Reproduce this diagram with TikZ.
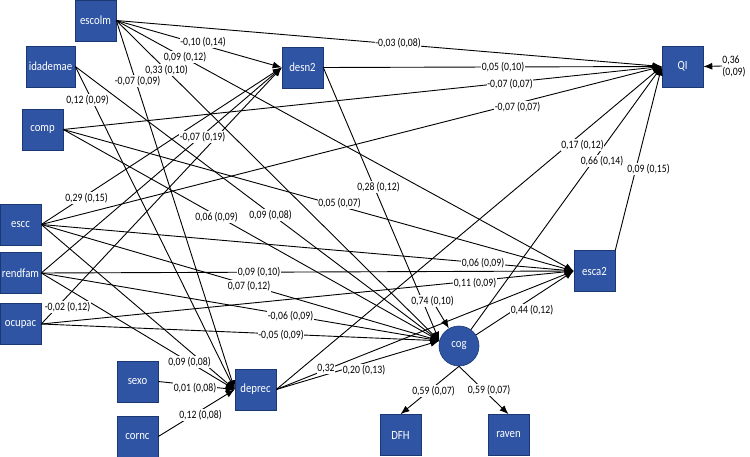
\documentclass[tikz,border=0pt]{standalone}
\usepackage{fontspec}
\setmainfont{Carlito}
\newfontfamily\coeffont[FakeStretch=0.86]{Carlito}
\usetikzlibrary{arrows.meta}
\definecolor{boxblue}{RGB}{46,84,163}
\definecolor{boxline}{RGB}{28,56,115}

\begin{document}
\begin{tikzpicture}[x=1pt,y=-1pt,line width=0.9pt,
    >={Latex[length=9pt,width=7pt]},
    box/.style={draw=boxline,line width=0.6pt,fill=boxblue,text=white,minimum width=41pt,minimum height=41pt,inner sep=1pt,font=\coeffont\fontsize{12.5}{14}\selectfont},
    coef/.style={fill=white,inner sep=0.6pt,font=\coeffont\fontsize{11.3}{12}\selectfont}]
    \useasboundingbox (0,0) rectangle (750,457);
    % variables
    \node[box] (escolm) at (95.5,20.5) {escolm};
    \node[box,minimum width=49pt] (idademae) at (50.5,66.5) {idademae};
    \node[box] (comp) at (42.5,129.5) {comp};
    \node[box] (escc) at (20.5,224.5) {escc};
    \node[box] (rendfam) at (20.5,273) {rendfam};
    \node[box] (ocupac) at (20.5,324) {ocupac};
    \node[box] (sexo) at (137.5,381.5) {sexo};
    \node[box] (cornc) at (137.5,436.5) {cornc};
    \node[box] (deprec) at (255.5,389.5) {deprec};
    \node[box] (desn2) at (302.5,67.5) {desn2};
    \node[box] (QI) at (682.5,66.5) {QI};
    \node[box] (esca2) at (594.5,271) {esca2};
    \node[box,circle,minimum size=40pt] (cog) at (459,346) {cog};
    \node[box] (DFH) at (400.5,435) {DFH};
    \node[box] (raven) at (508.5,435) {raven};
    % paths
    \draw[->] (escolm.east) -- (QI.west);
    \draw[->] (escolm.east) -- (desn2.west);
    \draw[->] (escolm.east) -- (esca2.west);
    \draw[->] (escolm.east) -- (cog.165);
    \draw[->] (escolm.east) -- (deprec.west);
    \draw[->] (idademae.east) -- (deprec.west);
    \draw[->] (idademae.east) -- (cog.165);
    \draw[->] (comp.east) -- (QI.west);
    \draw[->] (comp.east) -- (cog.165);
    \draw[->] (comp.east) -- (esca2.west);
    \draw[->] (escc.east) -- (desn2.west);
    \draw[->] (escc.east) -- (QI.west);
    \draw[->] (escc.east) -- (esca2.west);
    \draw[->] (escc.east) -- (cog.165);
    \draw[->] (escc.east) -- (deprec.west);
    \draw[->] (rendfam.east) -- (desn2.west);
    \draw[->] (rendfam.east) -- (esca2.west);
    \draw[->] (rendfam.east) -- (cog.165);
    \draw[->] (rendfam.east) -- (deprec.west);
    \draw[->] (ocupac.east) -- (desn2.west);
    \draw[->] (ocupac.east) -- (esca2.west);
    \draw[->] (ocupac.east) -- (cog.165);
    \draw[->] (sexo.east) -- (deprec.west);
    \draw[->] (cornc.east) -- (deprec.west);
    \draw[->] (desn2.east) -- (QI.west);
    \draw[->] (desn2.east) -- (cog.165);
    \draw[->] (deprec.east) -- (QI.west);
    \draw[->] (deprec.east) -- (esca2.west);
    \draw[->] (deprec.east) -- (cog.165);
    \draw[->] (cog) -- (QI.west);
    \draw[->] (cog) -- (esca2.west);
    \draw[->] (esca2.north east) -- (QI.west);
    \draw[->] (cog.south) -- (DFH.north);
    \draw[->] (cog.south) -- (raven.north);
    % estimates
    \node[coef] (c1) at (398,43) {-0,03 (0,08)};
    \node[coef] (c2) at (203,42) {-0,10 (0,14)};
    \node[coef] (c3) at (185,57) {0,09 (0,12)};
    \node[coef] (c4) at (166.5,70) {0,33 (0,10)};
    \node[coef] (c5) at (137.5,81) {-0,07 (0,09)};
    \node[coef] (c6) at (87.5,100) {0,12 (0,09)};
    \node[coef] (c7) at (270.5,215) {0,09 (0,08)};
    \node[coef] (c8) at (510,84) {-0,07 (0,07)};
    \node[coef] (c9) at (216.5,217) {0,06 (0,09)};
    \node[coef] (c10) at (339.5,203) {0,05 (0,07)};
    \node[coef] (c11) at (86.5,198) {0,29 (0,15)};
    \node[coef] (c12) at (517.5,107) {-0,07 (0,07)};
    \node[coef] (c13) at (483,263) {0,06 (0,09)};
    \node[coef] (c14) at (249,286) {0,07 (0,12)};
    \node[coef] (c15) at (202.5,137) {-0,07 (0,19)};
    \node[coef] (c16) at (259,272) {0,09 (0,10)};
    \node[coef] (c17) at (290.5,316) {-0,06 (0,09)};
    \node[coef] (c18) at (189.5,362) {0,09 (0,08)};
    \node[coef] (c19) at (67.5,307) {-0,02 (0,12)};
    \node[coef] (c20) at (475,283) {0,11 (0,09)};
    \node[coef] (c21) at (281,335) {-0,05 (0,09)};
    \node[coef] (c22) at (195,388) {0,01 (0,08)};
    \node[coef] (c23) at (200.5,415) {0,12 (0,08)};
    \node[coef] (c24) at (503,67) {0,05 (0,10)};
    \node[coef] (c25) at (378.5,187) {0,28 (0,12)};
    \node[coef] (c26) at (582.5,145) {0,17 (0,12)};
    \node[coef] (c27) at (326,369) {0,32};
    \node[coef] (c28) at (364,370) {0,20 (0,13)};
    \node[coef] (c29) at (602,161) {0,66 (0,14)};
    \node[coef] (c30) at (532,310) {0,44 (0,12)};
    \node[coef] (c31) at (648.5,169) {0,09 (0,15)};
    \node[coef] (c32) at (433.5,391) {0,59 (0,07)};
    \node[coef] (c33) at (489,390) {0,59 (0,07)};
    % residuals
    \node[coef] (rcog) at (432.5,301) {0,74 (0,10)};
    \node[coef,anchor=west,align=left,inner sep=0pt] (rQI) at (722,66) {0,36\\(0,09)};
    \draw[->] (rcog) -- (cog.120);
    \draw[->] (rQI.west) -- (QI.east);
\end{tikzpicture}
\end{document}
